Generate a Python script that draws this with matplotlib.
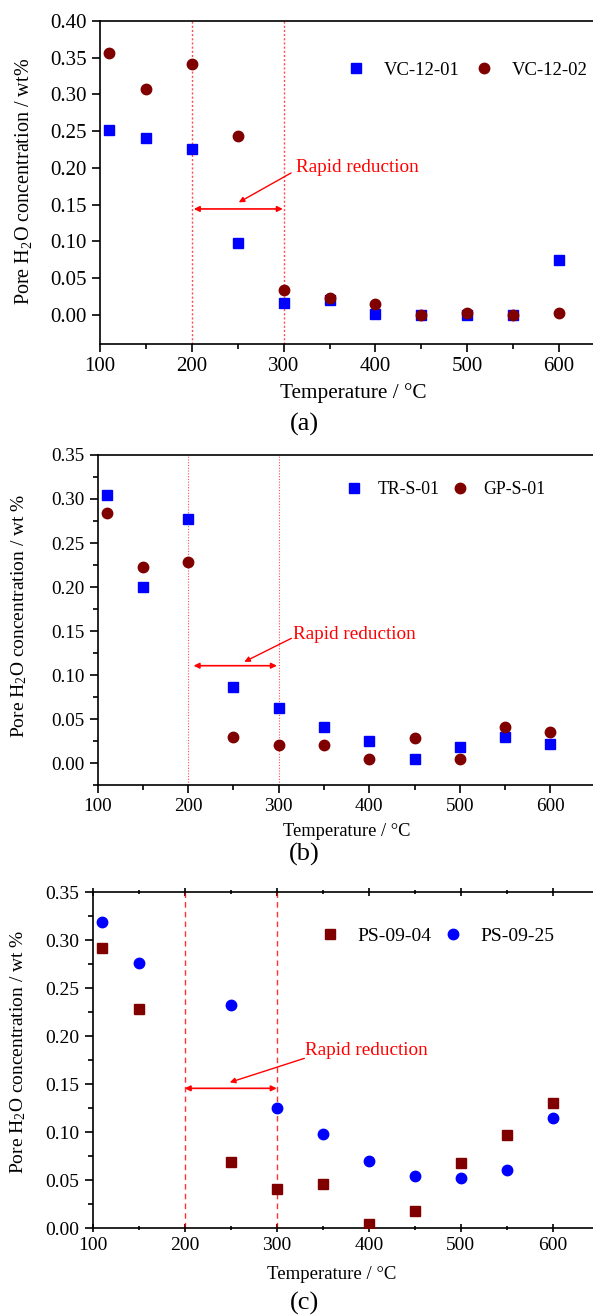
#三个温度-孔隙水含量散点图
import matplotlib
matplotlib.use("Agg")
import matplotlib.pyplot as plt
from matplotlib.ticker import MultipleLocator

plt.rcParams['font.family'] = ['Liberation Serif', 'DejaVu Serif']
plt.rcParams['mathtext.fontset'] = 'custom'
plt.rcParams['mathtext.rm'] = 'Liberation Serif'
plt.rcParams['mathtext.it'] = 'Liberation Serif:italic'

#数据
temp_a = [110, 150, 200, 250, 300, 350, 400, 450, 500, 550, 600]
vc01 = [0.251, 0.241, 0.226, 0.098, 0.016, 0.020, 0.001, 0.0, 0.0, 0.0, 0.075]
vc02 = [0.356, 0.308, 0.341, 0.243, 0.034, 0.022, 0.015, 0.0, 0.002, 0.0, 0.002]

temp_b = [110, 150, 200, 250, 300, 350, 400, 450, 500, 550, 600]
trs01 = [0.304, 0.200, 0.277, 0.086, 0.063, 0.041, 0.025, 0.005, 0.018, 0.030, 0.022]
gps01 = [0.284, 0.223, 0.228, 0.030, 0.020, 0.020, 0.005, 0.028, 0.005, 0.041, 0.035]

temp_c = [110, 150, 250, 300, 350, 400, 450, 500, 550, 600]
ps0904 = [0.292, 0.228, 0.069, 0.041, 0.046, 0.0045, 0.018, 0.068, 0.097, 0.131]
ps0925 = [0.319, 0.276, 0.233, 0.125, 0.098, 0.070, 0.055, 0.052, 0.061, 0.115]

blue = '#0000ff'
dred = '#800000'

fig = plt.figure(figsize=(5.93, 13.15), dpi=100)

def setup(ax, ylim, tick_fs, minor_y, inout=False):
    ax.set_xlim(100, 650)
    ax.set_ylim(*ylim)
    ax.xaxis.set_major_locator(MultipleLocator(100))
    ax.xaxis.set_minor_locator(MultipleLocator(50))
    ax.yaxis.set_major_locator(MultipleLocator(0.05))
    ax.yaxis.set_major_formatter(plt.FuncFormatter(lambda v, p: '%.2f' % v))
    if minor_y:
        ax.yaxis.set_minor_locator(MultipleLocator(0.025))
    for s in ax.spines.values():
        s.set_linewidth(1.2)
    ax.tick_params(axis='both', which='major', direction='out', length=6, width=1.2, labelsize=tick_fs)
    ax.tick_params(axis='both', which='minor', direction='out', length=3.5, width=1.2)
    if inout:
        ax.tick_params(axis='x', which='both', direction='inout', top=True)

# (a)
ax1 = fig.add_axes([0.169, 0.7384, 0.851, 0.2456])
setup(ax1, (-0.04, 0.40), 15, False)
ax1.axvline(200, color='red', lw=1.0, ls=(0, (1.5, 1.5)), alpha=0.7)
ax1.axvline(300, color='red', lw=1.0, ls=(0, (1.5, 1.5)), alpha=0.7)
ax1.plot(temp_a, vc01, 's', color=blue, ms=7, label='VC-12-01', zorder=3)
ax1.plot(temp_a, vc02, 'o', color=dred, ms=7.5, label='VC-12-02', zorder=3)
ax1.annotate('', xy=(202, 0.144), xytext=(299, 0.144),
             arrowprops=dict(arrowstyle='<|-|>', color='red', lw=1.2, mutation_scale=8, shrinkA=0, shrinkB=0))
ax1.annotate('', xy=(251, 0.153), xytext=(308, 0.193),
             arrowprops=dict(arrowstyle='-|>', color='red', lw=1.0, mutation_scale=8, shrinkA=0, shrinkB=0))
ax1.text(313, 0.200, 'Rapid reduction', color='red', fontsize=13.8, va='center', ha='left')
ax1.legend(loc='center left', bbox_to_anchor=(369, 0.333), bbox_transform=ax1.transData,
           ncol=2, frameon=False, fontsize=13.4, handlelength=1, handletextpad=1.0,
           columnspacing=0.79, borderpad=0, borderaxespad=0)
fig.text(0.039, 0.862, r'Pore H$_2$O concentration / wt%', rotation=90, fontsize=14.5, ha='center', va='center')
fig.text(0.596, 0.701, 'Temperature / \u00b0C', fontsize=15.3, ha='center', va='center')
fig.text(0.513, 0.677, '(a)', fontsize=19, ha='center', va='center')

# (b)
ax2 = fig.add_axes([0.1646, 0.403, 0.8398, 0.251])
setup(ax2, (-0.025, 0.35), 13.8, True)
ax2.axvline(200, color='red', lw=0.8, ls=(0, (1, 1.5)), alpha=0.7)
ax2.axvline(300, color='red', lw=0.8, ls=(0, (1, 1.5)), alpha=0.7)
ax2.plot(temp_b, trs01, 's', color=blue, ms=7, label='TR-S-01', zorder=3)
ax2.plot(temp_b, gps01, 'o', color=dred, ms=7.5, label='GP-S-01', zorder=3)
ax2.annotate('', xy=(206, 0.1106), xytext=(298, 0.1106),
             arrowprops=dict(arrowstyle='<|-|>', color='red', lw=1.2, mutation_scale=8, shrinkA=0, shrinkB=0))
ax2.annotate('', xy=(262, 0.115), xytext=(314, 0.1417),
             arrowprops=dict(arrowstyle='-|>', color='red', lw=1.0, mutation_scale=8, shrinkA=0, shrinkB=0))
ax2.text(316, 0.1466, 'Rapid reduction', color='red', fontsize=13.8, va='center', ha='left')
ax2.legend(loc='center left', bbox_to_anchor=(373, 0.311), bbox_transform=ax2.transData,
           ncol=2, frameon=False, fontsize=12.8, handlelength=1, handletextpad=0.85,
           columnspacing=0.62, borderpad=0, borderaxespad=0)
fig.text(0.033, 0.532, r'Pore H$_2$O concentration / wt %', rotation=90, fontsize=14, ha='center', va='center')
fig.text(0.585, 0.368, 'Temperature / \u00b0C', fontsize=13.3, ha='center', va='center')
fig.text(0.513, 0.350, '(b)', fontsize=19, ha='center', va='center')

# (c)
ax3 = fig.add_axes([0.1563, 0.0659, 0.8535, 0.2556])
setup(ax3, (0, 0.35), 14, True, inout=True)
ax3.axvline(200, color='red', lw=1.0, ls=(0, (4, 3)), alpha=0.8)
ax3.axvline(300, color='red', lw=1.0, ls=(0, (4, 3)), alpha=0.8)
ax3.plot(temp_c, ps0904, 's', color=dred, ms=7, label='PS-09-04', zorder=3)
ax3.plot(temp_c, ps0925, 'o', color=blue, ms=7.5, label='PS-09-25', zorder=3)
ax3.annotate('', xy=(200, 0.1458), xytext=(300, 0.1458),
             arrowprops=dict(arrowstyle='<|-|>', color='red', lw=1.2, mutation_scale=8, shrinkA=0, shrinkB=0))
ax3.annotate('', xy=(249, 0.152), xytext=(330, 0.177),
             arrowprops=dict(arrowstyle='-|>', color='red', lw=1.0, mutation_scale=8, shrinkA=0, shrinkB=0))
ax3.text(331, 0.1847, 'Rapid reduction', color='red', fontsize=13.8, va='center', ha='left')
ax3.legend(loc='center left', bbox_to_anchor=(347.5, 0.304), bbox_transform=ax3.transData,
           ncol=2, frameon=False, fontsize=14, handlelength=1, handletextpad=0.89,
           columnspacing=0.63, borderpad=0, borderaxespad=0)
fig.text(0.030, 0.200, r'Pore H$_2$O concentration / wt %', rotation=90, fontsize=14, ha='center', va='center')
fig.text(0.560, 0.031, 'Temperature / \u00b0C', fontsize=13.5, ha='center', va='center')
fig.text(0.513, 0.009, '(c)', fontsize=19, ha='center', va='center')

fig.savefig('out.png', dpi=100)
